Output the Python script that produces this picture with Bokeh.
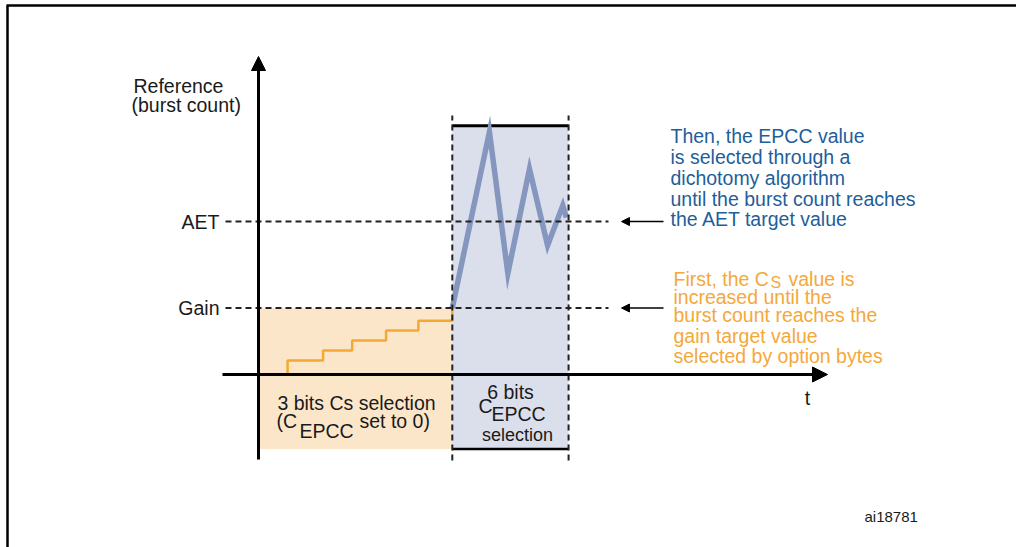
from bokeh.plotting import figure
from bokeh.models import Range1d, Arrow, NormalHead
from bokeh.core.properties import value
from bokeh.embed import file_html
from bokeh.resources import INLINE

# ---------------- data (conceptual units) ----------------
step_t = [0.0, 0.9, 2.0, 2.9, 3.95, 4.95, 6.0]          # Cs selection steps (time)
step_ref = [0, 21, 36, 51, 66, 81, 100]                  # burst count per step
zig_t = [6.0, 7.15, 7.72, 8.39, 8.95, 9.42, 9.53]        # EPCC dichotomy (time)
zig_ref = [100, 365, 152, 309, 194, 254, 236]            # burst count during dichotomy
level_names = ["AET", "Gain"]
level_values = [230, 100]
phase_start = [0.0, 6.0]
phase_end = [6.0, 9.6]
phase_top = [100, 374]
phase_bottom = -112
phase_colors = ["#FCE6C9", "#DBDEEB"]

# ---------------- layout helpers (image pixel -> data) ----------------
W, H = 1016, 547
ORIGIN = (258.0, 374.0)
T_PX = 32.3
R_PX = 0.665


def dx(px):
    return (px - ORIGIN[0]) / T_PX


def dy(py):
    return (ORIGIN[1] - py) / R_PX


p = figure(width=W, height=H, output_backend="svg", toolbar_location=None,
           x_range=Range1d(dx(0), dx(W)),
           y_range=Range1d(dy(H), dy(0)),
           x_axis_location=None, y_axis_location=None, min_border=0)
p.grid.visible = False
p.outline_line_color = None
p.background_fill_color = "white"

FONT = value("Liberation Sans")
BLACK = "#1a1a1a"
BLUE_TXT = "#1E5E9B"
ORANGE_TXT = "#F5A83A"


def label(xp, yp, s, color=BLACK, size="19.5px", align="left"):
    p.text(x=[dx(xp)], y=[dy(yp)], text=[s], text_font=FONT,
           text_font_size=value(size), text_color=color,
           text_align=align, text_baseline="middle")


# frame (top and left border)
p.segment(x0=[dx(6), dx(7)], y0=[dy(5), dy(5)],
          x1=[dx(W), dx(7)], y1=[dy(5), dy(H)],
          line_color="black", line_width=2.5)

# phase boxes
p.quad(left=phase_start, right=phase_end, top=phase_top,
       bottom=[phase_bottom] * 2, fill_color=phase_colors, line_color=None)
# blue box top/bottom borders
p.segment(x0=[phase_start[1]] * 2, y0=[phase_top[1], phase_bottom],
          x1=[phase_end[1]] * 2, y1=[phase_top[1], phase_bottom],
          line_color="black", line_width=[3, 2.5])

# staircase (Cs selection)
p.step(step_t, step_ref, mode="after", line_color="#F5A833", line_width=2.5)

# dichotomy zig-zag
p.line(zig_t, zig_ref, line_color="#8597BE", line_width=5.5, line_join="miter")

# dashed level lines
p.segment(x0=[dx(225)] * 2, y0=level_values, x1=[dx(608)] * 2, y1=level_values,
          line_color="#222222", line_width=2, line_dash="6 4")
# dashed vertical phase limits
p.segment(x0=[phase_start[1], phase_end[1]], y0=[dy(460)] * 2,
          x1=[phase_start[1], phase_end[1]], y1=[dy(115)] * 2,
          line_color="#222222", line_width=2, line_dash="6 4")

# axes arrows
p.add_layout(Arrow(end=NormalHead(size=14, fill_color="black", line_color="black"),
                   x_start=0, y_start=dy(459), x_end=0, y_end=dy(56),
                   line_color="black", line_width=3))
p.add_layout(Arrow(end=NormalHead(size=15, fill_color="black", line_color="black"),
                   x_start=dx(222), y_start=0, x_end=dx(827), y_end=0,
                   line_color="black", line_width=3))

# small pointer arrows to the level lines
for lv in level_values:
    p.add_layout(Arrow(end=NormalHead(size=8, fill_color="black", line_color="black"),
                       x_start=dx(663), y_start=lv, x_end=dx(621), y_end=lv,
                       line_color="black", line_width=1.5))

# axis labels
label(133, 85, "Reference")
label(131, 104, "(burst count)")
label(807, 397, "t", align="center")
for name, lv in zip(level_names, level_values):
    p.text(x=[dx(219)], y=[lv], text=[name], text_font=FONT,
           text_font_size=value("19.5px"), text_color=BLACK,
           text_align="right", text_baseline="middle")

# phase labels
label(356, 402, "3 bits Cs selection", align="center")
label(276, 420, "(C")
label(299, 430, "EPCC")
label(359, 420, "set to 0)")
label(510, 391, "6 bits", align="center")
label(478, 405, "C")
label(491, 413, "EPCC")
label(517, 434, "selection", size="18px", align="center")

# blue annotation
blue_lines = ["Then, the EPCC value", "is selected through a", "dichotomy algorithm",
              "until the burst count reaches", "the AET target value"]
blue_y = [135, 156, 177, 198, 218]
for s, yy in zip(blue_lines, blue_y):
    label(670, yy, s, color=BLUE_TXT)

# orange annotation
label(673, 278, "First, the C", color=ORANGE_TXT)
label(770, 282, "S", color=ORANGE_TXT, size="16px")
label(788, 278, "value is", color=ORANGE_TXT)
orange_lines = ["increased until the", "burst count reaches the",
                "gain target value", "selected by option bytes"]
orange_y = [296, 314, 335, 355]
for s, yy in zip(orange_lines, orange_y):
    label(673, yy, s, color=ORANGE_TXT)

label(864, 516, "ai18781", size="15px")

open("out.html", "w").write(file_html(p, INLINE))
